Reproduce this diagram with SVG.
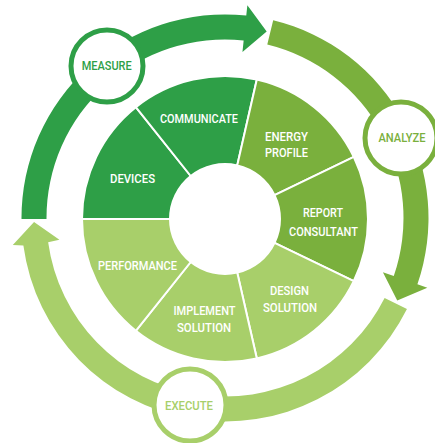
<svg xmlns="http://www.w3.org/2000/svg" width="435" height="443" viewBox="0 0 435 443">
<style>
.seg{stroke:#ffffff;stroke-width:2;stroke-linejoin:round}
.dark{fill:#2e9f47}
.mid{fill:#7ab03d}
.light{fill:#a8cf6a}
.lbl{font-family:Roboto,"Liberation Sans",Arial,sans-serif;font-weight:500;font-size:12px;fill:#ffffff;text-anchor:middle}
.ring{fill:#ffffff;stroke-width:5}
.clbl{font-family:Roboto,"Liberation Sans",Arial,sans-serif;font-weight:500;font-size:12px;text-anchor:middle}
</style>
<rect width="435" height="443" fill="#ffffff"/>
<g id="connectors">
<path id="arc-measure" class="dark" d="M21.50,219.07 A203.5,203.5 0 0 1 246.27,15.61 L247.37,5.17 L266.67,31.60 L242.46,51.91 L243.66,40.48 A178.5,178.5 0 0 0 46.50,218.93 Z"/>
<path id="arc-analyze" class="mid" d="M273.20,20.29 A203.5,203.5 0 0 1 417.41,284.25 L427.34,287.67 L397.25,300.53 L382.90,272.37 L393.78,276.11 A178.5,178.5 0 0 0 267.28,44.58 Z"/>
<path id="arc-execute" class="light" d="M406.96,309.12 A203.5,203.5 0 0 1 23.38,245.62 L12.80,245.0 L34.04,222.00 L59.40,239.8 L48.15,242.23 A178.5,178.5 0 0 0 384.61,297.93 Z"/>
</g>
<g id="devices">
<path class="seg dark" d="M170,219 L82,219 A143,143 0 0 1 135.84,107.20 L190.71,176.00 A55,55 0 0 0 170,219 Z"/>
<text class="lbl" x="132.5" y="183" textLength="45" lengthAdjust="spacingAndGlyphs">DEVICES</text>
</g>
<g id="communicate">
<path class="seg dark" d="M190.71,176.00 L135.84,107.20 A143,143 0 0 1 256.82,79.58 L237.24,165.38 A55,55 0 0 0 190.71,176.00 Z"/>
<text class="lbl" x="199" y="123" textLength="78" lengthAdjust="spacingAndGlyphs">COMMUNICATE</text>
</g>
<g id="energy-profile">
<path class="seg mid" d="M237.24,165.38 L256.82,79.58 A143,143 0 0 1 353.84,156.95 L274.55,195.14 A55,55 0 0 0 237.24,165.38 Z"/>
<text class="lbl" x="286.5" y="140.5" textLength="43" lengthAdjust="spacingAndGlyphs">ENERGY</text>
<text class="lbl" x="286.5" y="157" textLength="43" lengthAdjust="spacingAndGlyphs">PROFILE</text>
</g>
<g id="report-consultant">
<path class="seg mid" d="M274.55,195.14 L353.84,156.95 A143,143 0 0 1 353.84,281.05 L274.55,242.86 A55,55 0 0 0 274.55,195.14 Z"/>
<text class="lbl" x="323" y="217" textLength="40" lengthAdjust="spacingAndGlyphs">REPORT</text>
<text class="lbl" x="323.5" y="236" textLength="69" lengthAdjust="spacingAndGlyphs">CONSULTANT</text>
</g>
<g id="design-solution">
<path class="seg light" d="M274.55,242.86 L353.84,281.05 A143,143 0 0 1 256.82,358.42 L237.24,272.62 A55,55 0 0 0 274.55,242.86 Z"/>
<text class="lbl" x="289.5" y="295" textLength="39" lengthAdjust="spacingAndGlyphs">DESIGN</text>
<text class="lbl" x="290" y="312" textLength="54" lengthAdjust="spacingAndGlyphs">SOLUTION</text>
</g>
<g id="implement-solution">
<path class="seg light" d="M237.24,272.62 L256.82,358.42 A143,143 0 0 1 135.84,330.80 L190.71,262.00 A55,55 0 0 0 237.24,272.62 Z"/>
<text class="lbl" x="204.5" y="315" textLength="62" lengthAdjust="spacingAndGlyphs">IMPLEMENT</text>
<text class="lbl" x="204" y="332" textLength="54" lengthAdjust="spacingAndGlyphs">SOLUTION</text>
</g>
<g id="performance">
<path class="seg light" d="M190.71,262.00 L135.84,330.80 A143,143 0 0 1 82,219 L170,219 A55,55 0 0 0 190.71,262.00 Z"/>
<text class="lbl" x="137.5" y="270" textLength="79" lengthAdjust="spacingAndGlyphs">PERFORMANCE</text>
</g>
<g id="measure">
<circle class="ring" cx="107" cy="66" r="36" stroke="#2e9f47"/>
<text class="clbl" x="106.7" y="69.5" fill="#2e9f47" textLength="50" lengthAdjust="spacingAndGlyphs">MEASURE</text>
</g>
<g id="analyze">
<circle class="ring" cx="401" cy="138" r="36" stroke="#7ab03d"/>
<text class="clbl" x="402" y="141.5" fill="#7ab03d" textLength="47" lengthAdjust="spacingAndGlyphs">ANALYZE</text>
</g>
<g id="execute">
<circle class="ring" cx="190" cy="405" r="36" stroke="#a8cf6a"/>
<text class="clbl" x="189" y="410" fill="#a8cf6a" textLength="48" lengthAdjust="spacingAndGlyphs">EXECUTE</text>
</g>
</svg>
